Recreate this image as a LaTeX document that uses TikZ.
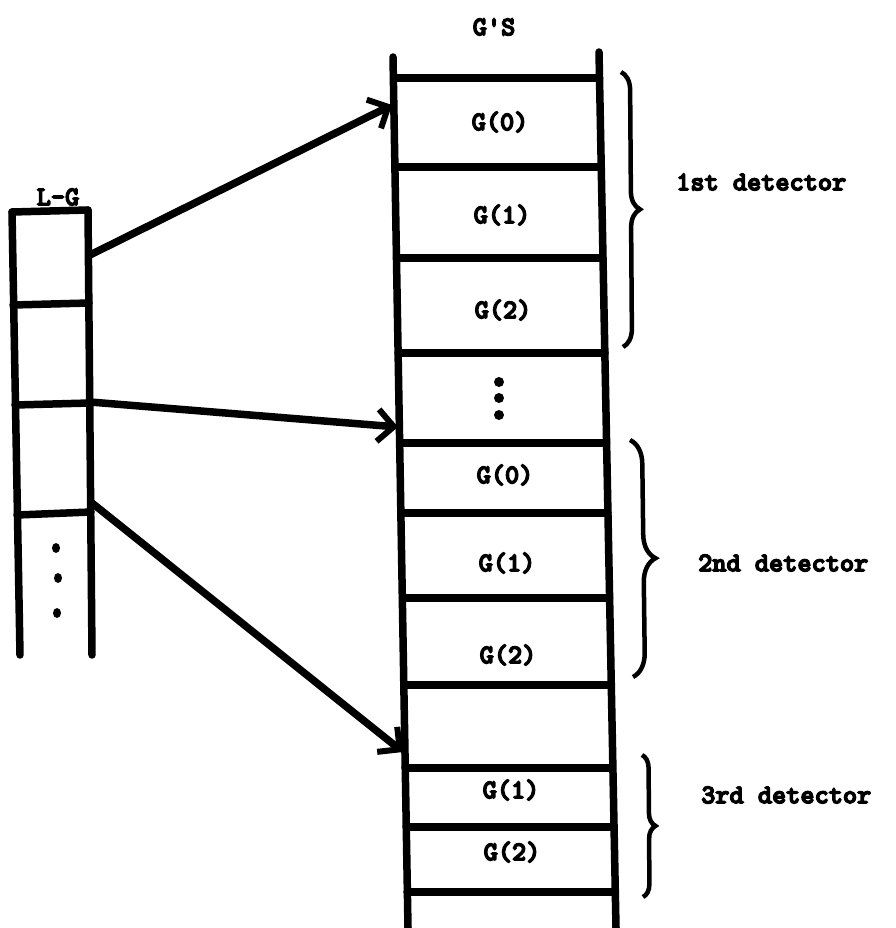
\documentclass[tikz,border=0pt]{standalone}
\usepackage{fontspec}
\newfontfamily\typefont{Latin Modern Mono Light}[BoldFeatures={FakeBold=5}]
\usepackage{tikz}
\usetikzlibrary{arrows.meta, decorations.pathreplacing}

\begin{document}
\begin{tikzpicture}[x=1pt, y=-1pt, >={Straight Barb[length=16pt, width=32pt, line width=6pt]},
    col/.style={line width=7.5pt, line cap=round, line join=round},
    lbl/.style={font=\typefont\bfseries\fontsize{27}{30}\selectfont, inner sep=0pt},
    brc/.style={decorate, decoration={brace, amplitude=#1}, line width=4.5pt}]
    \useasboundingbox (0,0) rectangle (895,928);

    % 1. Cot L-G ben trai
    \node[lbl] (lg) at (58,197) {L-G};
    \draw[col] (12,212) -- (88,210);
    \draw[col] (12,212) -- (20,655);
    \draw[col] (88,210) -- (92,655);
    \draw[col] (13,305) -- (89,303);
    \draw[col] (15,405) -- (90,403);
    \draw[col] (17,515) -- (91,512);
    % Dau ba cham
    \fill (56,548) ellipse (4 and 5);
    \fill (58,578) ellipse (4 and 5);
    \fill (57,613) ellipse (4 and 5);

    % 2. Cot G'S ben phai
    \node[lbl] (gs) at (494,27) {G'S};
    \draw[col] (393,57) -- (408,928);
    \draw[col] (599,52) -- (616,928);
    \draw[col] (393.5,78) -- (599.5,78);
    \draw[col] (395,167) -- (601,167);
    \draw[col] (396.5,258) -- (603,258);
    \draw[col] (398,353) -- (605,353);
    \draw[col] (400,443) -- (606.5,443);
    \draw[col] (401,513) -- (608,513);
    \draw[col] (402.5,598) -- (609.5,598);
    \draw[col] (404,685) -- (611,685);
    \draw[col] (405,768) -- (612.5,768);
    \draw[col] (406,827) -- (613.5,827);
    \draw[col] (407,892) -- (615,892);

    % Nhom 1
    \node[lbl] (g0a) at (500,122) {G(0)};
    \node[lbl] (g1a) at (502,215) {G(1)};
    \node[lbl] (g2a) at (503,310) {G(2)};
    \fill (499,382) circle (5);
    \fill (499,398) circle (5);
    \fill (499,415) circle (5);
    % Nhom 2
    \node[lbl] (g0b) at (505,475) {G(0)};
    \node[lbl] (g1b) at (507,563) {G(1)};
    \node[lbl] (g2b) at (508,655) {G(2)};
    % Nhom 3
    \node[lbl] (g1c) at (511,790) {G(1)};
    \node[lbl] (g2c) at (512,852) {G(2)};

    % 3. Cac mui ten
    \coordinate (lgA) at (90,255);
    \coordinate (lgB) at (90,402);
    \coordinate (lgC) at (92,503);
    \coordinate (gsA) at (392,105);
    \coordinate (gsB) at (398,427);
    \coordinate (gsC) at (403,752);
    \draw[col, ->] (lgA) -- (gsA);
    \draw[col, ->] (lgB) -- (gsB);
    \draw[col, ->] (lgC) -- (gsC);

    % 4. Dau ngoac va nhan
    \draw[brc=18pt] (621,72) -- (623,347);
    \node[lbl, right] (det1) at (676,182) {1st detector};
    \draw[brc=24pt] (630,440) -- (633,677);
    \node[lbl, right] (det2) at (698,563) {2nd detector};
    \draw[brc=13pt] (642,755) -- (643,897);
    \node[lbl, right] (det3) at (701,795) {3rd detector};

\end{tikzpicture}
\end{document}
